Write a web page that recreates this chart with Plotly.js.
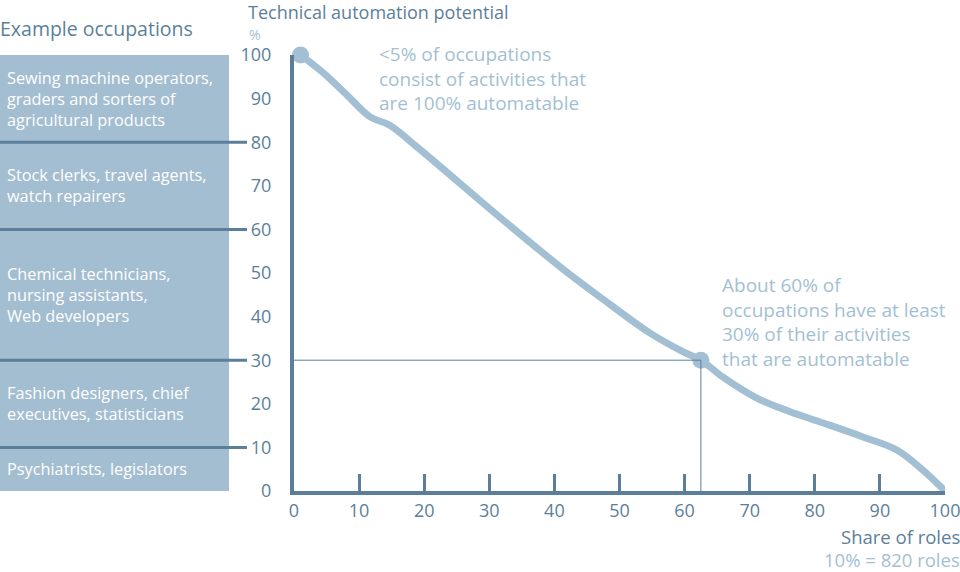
<!DOCTYPE html>
<html>
<head>
<meta charset="utf-8">
<script src="https://cdn.plot.ly/plotly-3.0.1.min.js"></script>
<style>
  html, body { margin: 0; padding: 0; background: #ffffff; }
  #myDiv { width: 960px; height: 572px; }
</style>
</head>
<body>
<div id="myDiv"></div>
<script>
    // share of roles (%) vs technical automation potential (%)
    var shareOfRoles = [1, 4.5, 8, 11.7, 14.7, 18.9, 31.6, 40.9, 47, 54.7, 59.8, 62.5,
        65.9, 71.1, 76, 81.3, 87.4, 92.6, 96.6, 100];
    var automation = [100, 95.9, 91, 85.8, 83.9, 78.9, 62.8, 51.4, 44.5, 36.2, 31.9, 30,
        26.1, 21.3, 18.3, 15.6, 12.4, 9.4, 4.8, 0];

    var highlightX = [1, 62.5];
    var highlightY = [100, 30];

    var yTicks = [0, 10, 20, 30, 40, 50, 60, 70, 80, 90, 100];
    var yMarks = [10, 20, 30, 40, 50, 60, 70, 80, 90];
    var xTicks = [0, 10, 20, 30, 40, 50, 60, 70, 80, 90, 100];

    // example occupation bands (top / bottom of band in automation %)
    var bandEdges = [100, 80, 60, 30, 10, 0];
    var bandLabels = [
        'Sewing machine operators,<br>graders and sorters of<br>agricultural products',
        'Stock clerks, travel agents,<br>watch repairers',
        'Chemical technicians,<br>nursing assistants,<br>Web developers',
        'Fashion designers, chief<br>executives, statisticians',
        'Psychiatrists, legislators'
    ];

    var dark = '#5b7f9b';
    var light = '#a3bfd3';
    var fnt = 'Open Sans, sans-serif';

    var data = [{
        type: 'scatter',
        mode: 'lines',
        x: shareOfRoles,
        y: automation,
        line: {color: light, width: 7, shape: 'spline', smoothing: 1},
        cliponaxis: false,
        hoverinfo: 'skip'
    }, {
        type: 'scatter',
        mode: 'markers',
        x: highlightX,
        y: highlightY,
        marker: {color: light, size: 17},
        cliponaxis: false,
        hoverinfo: 'skip'
    }];

    var shapes = [];
    // box behind occupation labels
    shapes.push({
        type: 'rect', layer: 'below',
        xref: 'paper', xsizemode: 'pixel', xanchor: 0, x0: -294, x1: -65,
        yref: 'y', y0: bandEdges[bandEdges.length - 1], y1: bandEdges[0],
        fillcolor: '#a3bdd1', line: {width: 0}
    });
    // separators between bands
    for (var i = 1; i < bandEdges.length - 1; i++) {
        shapes.push({
            type: 'line',
            xref: 'paper', xsizemode: 'pixel', xanchor: 0, x0: -294, x1: -47,
            yref: 'y', y0: bandEdges[i], y1: bandEdges[i],
            line: {color: dark, width: 3}
        });
    }
    // reference lines to the 60% / 30% point
    shapes.push({
        type: 'line', xref: 'x', yref: 'y',
        x0: 0, x1: highlightX[1], y0: highlightY[1], y1: highlightY[1],
        line: {color: dark, width: 1}
    });
    shapes.push({
        type: 'line', xref: 'x', yref: 'y',
        x0: highlightX[1], x1: highlightX[1], y0: 0, y1: highlightY[1],
        line: {color: dark, width: 1}
    });

    var annotations = [];
    for (var j = 0; j < bandLabels.length; j++) {
        annotations.push({
            xref: 'paper', x: 0, xshift: -289, xanchor: 'left',
            yref: 'y', y: (bandEdges[j] + bandEdges[j + 1]) / 2, yanchor: 'middle',
            text: bandLabels[j], showarrow: false, align: 'left',
            font: {family: fnt, size: 16.3, color: '#ffffff'}
        });
    }
    annotations.push(
        {xref: 'paper', x: 0, xshift: -47, xanchor: 'left', yref: 'paper', y: 1, yshift: 43, yanchor: 'middle',
         text: 'Technical automation potential', showarrow: false, borderpad: 0,
         font: {family: fnt, size: 18, color: dark}},
        {xref: 'paper', x: 0, xshift: -46, xanchor: 'left', yref: 'paper', y: 1, yshift: 21, yanchor: 'middle',
         text: '%', showarrow: false, borderpad: 0, font: {family: fnt, size: 14, color: light}},
        {xref: 'paper', x: 0, xshift: -296, xanchor: 'left', yref: 'paper', y: 1, yshift: 27, yanchor: 'middle',
         text: 'Example occupations', showarrow: false, font: {family: fnt, size: 19.5, color: dark}},
        {xref: 'x', x: 12.8, xanchor: 'left', yref: 'y', y: 94.7, yanchor: 'middle', align: 'left',
         text: '&lt;5% of occupations<br>consist of activities that<br>are 100% automatable',
         showarrow: false, font: {family: fnt, size: 19, color: light}},
        {xref: 'x', x: 65.4, xanchor: 'left', yref: 'y', y: 38.8, yanchor: 'middle', align: 'left',
         text: 'About 60% of<br>occupations have at least<br>30% of their activities<br>that are automatable',
         showarrow: false, font: {family: fnt, size: 19, color: light}},
        {xref: 'paper', x: 1, xshift: 16, xanchor: 'right', yref: 'paper', y: 0, yshift: -45, yanchor: 'middle',
         text: 'Share of roles', showarrow: false, borderpad: 0, font: {family: fnt, size: 18.5, color: dark}},
        {xref: 'paper', x: 1, xshift: 16, xanchor: 'right', yref: 'paper', y: 0, yshift: -68, yanchor: 'middle',
         text: '10% = 820 roles', showarrow: false, borderpad: 0, font: {family: fnt, size: 18.5, color: light}}
    );

    var layout = {
        width: 960,
        height: 572,
        margin: {l: 294, r: 15, t: 55, b: 81},
        paper_bgcolor: '#ffffff',
        plot_bgcolor: 'rgba(0,0,0,0)',
        showlegend: false,
        font: {family: fnt, color: dark},
        xaxis: {
            range: [0, 100],
            tickvals: xTicks,
            ticks: 'inside', ticklen: 17, tickwidth: 3, tickcolor: dark,
            ticklabeloverflow: 'allow',
            showline: true, linecolor: dark, linewidth: 4,
            showgrid: false, zeroline: false,
            tickfont: {family: fnt, size: 18, color: dark},
            fixedrange: true
        },
        yaxis: {
            range: [0, 100],
            tickvals: yTicks,
            ticks: 'outside', ticklen: 15, tickcolor: 'rgba(0,0,0,0)',
            showline: true, linecolor: dark, linewidth: 4,
            showgrid: false, zeroline: false,
            tickfont: {family: fnt, size: 18, color: dark},
            fixedrange: true
        },
        yaxis2: {
            overlaying: 'y',
            range: [0, 100],
            tickvals: yMarks,
            ticks: 'outside', ticklen: 17, tickwidth: 3, tickcolor: dark,
            showticklabels: false, showline: false, showgrid: false, zeroline: false,
            fixedrange: true
        },
        shapes: shapes,
        annotations: annotations
    };

    Plotly.newPlot('myDiv', data, layout, {displayModeBar: false, staticPlot: true});
</script>
</body>
</html>
